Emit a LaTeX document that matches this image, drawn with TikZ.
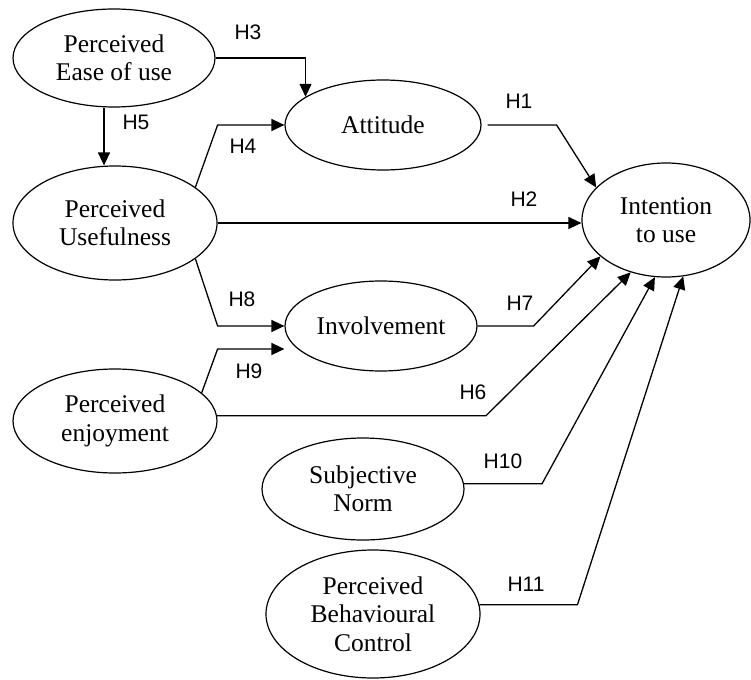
\documentclass[tikz,border=0pt]{standalone}
\usepackage{fontspec}
\setmainfont{Liberation Serif}
\newfontfamily\lblfont{Liberation Sans}
\usetikzlibrary{shapes.geometric,arrows.meta,calc}
\begin{document}
\begin{tikzpicture}[x=1pt,y=-1pt,
 cons/.style={draw,ellipse,inner sep=0pt,line width=1.2pt,align=center,font=\fontsize{25.5}{28.5}\selectfont},
 arr/.style={line width=1.3pt,-{Triangle[length=13pt,width=12pt]}},
 hyp/.style={font=\lblfont\fontsize{21}{23}\selectfont,inner sep=0pt}]
\useasboundingbox (0,0) rectangle (751,679);
\node[cons,minimum width=202pt,minimum height=98pt] (peou) at (114,58) {Perceived\\Ease of use};
\node[cons,minimum width=196pt,minimum height=90pt] (att) at (383,125) {Attitude};
\node[cons,minimum width=204pt,minimum height=114pt] (pu) at (115,223) {Perceived\\Usefulness};
\node[cons,minimum width=168pt,minimum height=114pt] (int) at (666,220) {Intention\\to use};
\node[cons,minimum width=192pt,minimum height=90pt] (inv) at (381,326) {Involvement};
\node[cons,minimum width=204pt,minimum height=104pt] (pe) at (115,421) {Perceived\\enjoyment};
\node[cons,minimum width=202pt,minimum height=102pt] (sn) at (363,489) {Subjective\\Norm};
\node[cons,minimum width=214pt,minimum height=128pt] (pbc) at (373,614) {Perceived\\Behavioural\\Control};

\draw[arr] (peou.east) -| (att.160);
\draw[arr] ([xshift=-10pt]peou.south) -- ([xshift=-10pt]peou.south |- pu.north);
\draw[arr] (pu.24) -- (att.west -| pu.east) -- (att.west);
\draw[arr] (pu.east) -- (pu.east -| int.west);
\draw[arr] ([xshift=6pt]att.east) -- ++(69,0) -- (int.155);
\draw[arr] (pu.336) -- (inv.west -| pu.east) -- (inv.west);
\coordinate (h9t) at ([yshift=-23pt]inv.west);
\draw[arr] (pe.18) -- (h9t -| pu.east) -- (h9t);
\draw[arr] (inv.east) -- ++(56,0) -- (int.209);
\draw[arr] (pe.3) -- ++(269,0) -- (int.236);
\draw[arr] (sn.3) -- ++(78,0) -- (int.259);
\draw[arr] (pbc.5) -- ++(98,0) -- (int.287);

\node[hyp] (h3) at (248,32) {H3};
\node[hyp] (h5) at (136,122) {H5};
\node[hyp] (h4) at (243,146) {H4};
\node[hyp] (h1) at (519,101) {H1};
\node[hyp] (h2) at (524,199) {H2};
\node[hyp] (h8) at (242,299) {H8};
\node[hyp] (h9) at (249,371) {H9};
\node[hyp] (h7) at (520,303) {H7};
\node[hyp] (h6) at (473,392) {H6};
\node[hyp] (h10) at (503,461) {H10};
\node[hyp] (h11) at (526,584) {H11};
\end{tikzpicture}
\end{document}
